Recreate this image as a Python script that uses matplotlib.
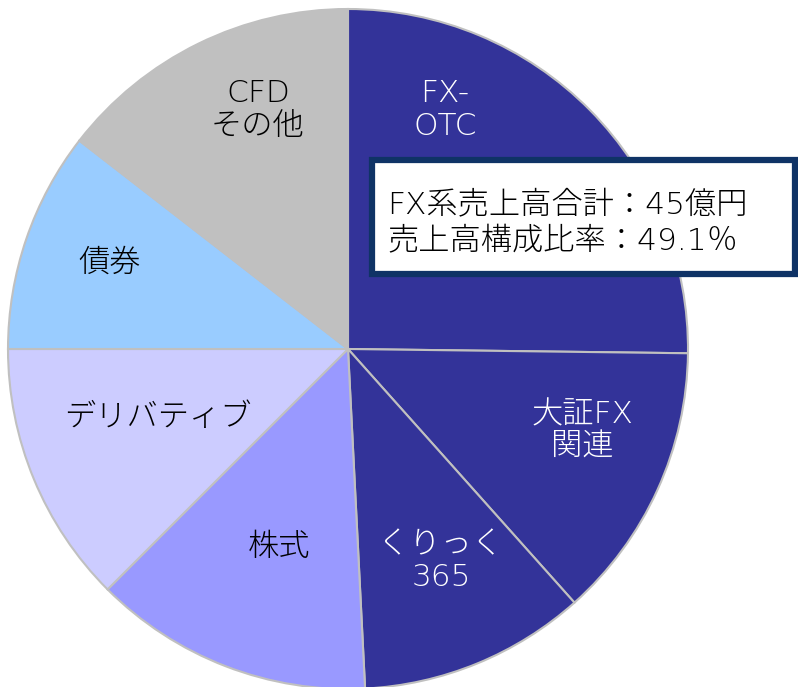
import matplotlib
matplotlib.use("Agg")
import matplotlib.pyplot as plt
from matplotlib.patches import Rectangle

# wide latin glyphs from DejaVu, kana/kanji from Noto CJK
plt.rcParams['font.family'] = ['DejaVu Sans', 'Noto Sans CJK JP']

# slices clockwise from 12 o'clock (share of revenue, %)
labels = ["FX-\nOTC", "大証FX\n関連", "くりっく\n365", "株式", "デリバティブ", "債券", "CFD\nその他"]
shares = [25.2, 13.2, 10.8, 13.3, 12.5, 10.5, 14.5]
colors = ["#333399", "#333399", "#333399", "#9999FF", "#CCCCFF", "#99CCFF", "#C0C0C0"]
text_colors = ["white", "white", "white", "black", "black", "black", "black"]
# label centres in pixel coords (x, y from top)
label_pos = [(445, 110), (582, 431), (441, 561), (279, 548), (158, 417), (110, 263), (258, 110)]

box_lines = ["FX系売上高合計：45億円", "売上高構成比率：49.1％"]

W, H = 798, 687
fig = plt.figure(figsize=(W / 100, H / 100), dpi=100)
ax = fig.add_axes([0, 0, 1, 1])

cx, cy, r = 348, H - 349, 340
ax.pie(shares, colors=colors, startangle=90, counterclock=False,
       center=(cx, cy), radius=r, frame=True,
       wedgeprops=dict(edgecolor="#C0C0C0", linewidth=1.5))
ax.set_xlim(0, W)
ax.set_ylim(0, H)
ax.set_aspect("equal")
ax.axis("off")

for lab, (x, y), tc in zip(labels, label_pos, text_colors):
    ax.text(x, H - y, lab, ha="center", va="center", color=tc, fontsize=22.5,
            linespacing=1.15, fontweight="light")

# summary box
ax.add_patch(Rectangle((372, H - 274), 423, 114, facecolor="white",
                       edgecolor="#0F3366", linewidth=4.5, zorder=5))
ax.text(387, H - 206, box_lines[0], ha="left", va="center", fontsize=22.5,
        fontweight="light", zorder=6)
ax.text(387, H - 242, box_lines[1], ha="left", va="center", fontsize=22.5,
        fontweight="light", zorder=6)

fig.savefig("out.png", dpi=100)
